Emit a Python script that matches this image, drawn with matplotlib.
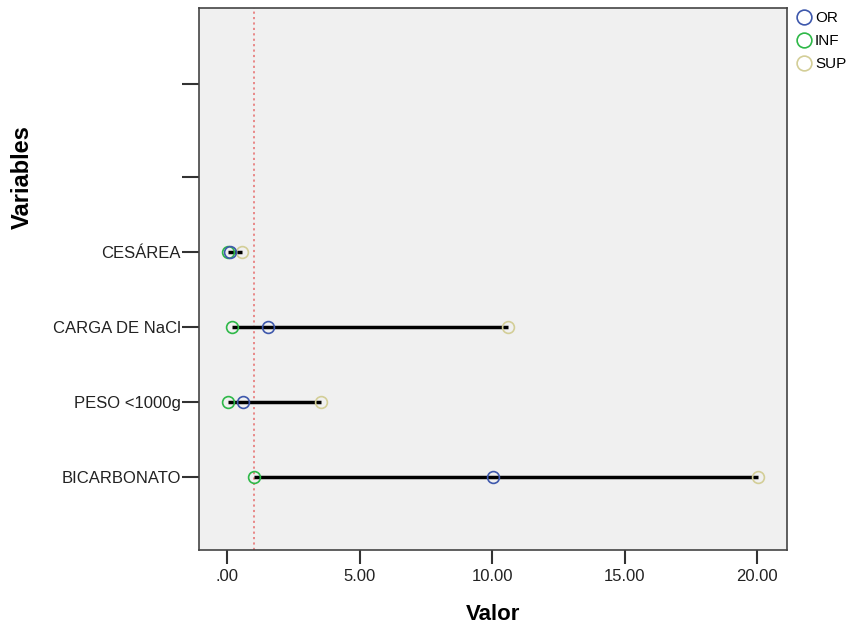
import matplotlib
matplotlib.use("Agg")
import matplotlib.pyplot as plt
from matplotlib.ticker import FuncFormatter

plt.rcParams['font.family'] = ['Liberation Sans', 'DejaVu Sans']

categories = ["BICARBONATO", "PESO <1000g", "CARGA DE NaCl", "CESÁREA", "", ""]
y_pos = [1, 2, 3, 4, 5, 6.24]
or_vals = [10.05, 0.6, 1.55, 0.12]
inf_vals = [1.0, 0.05, 0.2, 0.05]
sup_vals = [20.05, 3.55, 10.6, 0.55]
ref_value = 1.0
xticks = [0, 5, 10, 15, 20]

c_or = "#3E58AC"
c_inf = "#2EB848"
c_sup = "#D3CE97"

fig = plt.figure(figsize=(8.49, 6.31), dpi=100)
ax = fig.add_axes([199/849, 1-550/631, (787-199)/849, (550-8)/631])
ax.set_facecolor("#F0F0F0")

n = len(or_vals)
ys = y_pos[:n]
for y, lo, hi in zip(ys, inf_vals, sup_vals):
    ax.plot([lo, hi], [y, y], color="black", lw=2.5, zorder=2, solid_capstyle="butt")

ms = 8.5
ax.plot(sup_vals, ys, 'o', mfc='none', mec=c_sup, ms=ms, mew=1.2, zorder=3, label="SUP")
ax.plot(inf_vals, ys, 'o', mfc='none', mec=c_inf, ms=ms, mew=1.2, zorder=4, label="INF")
ax.plot(or_vals, ys, 'o', mfc='none', mec=c_or, ms=ms, mew=1.2, zorder=5, label="OR")

ax.axvline(ref_value, color="#E88080", lw=1.3, ls=(0, (1.2, 1.8)), zorder=1)

ax.set_xlim(-1.06, 21.13)
ax.set_ylim(0.027, 7.25)
ax.set_xticks(xticks)
ax.xaxis.set_major_formatter(FuncFormatter(lambda v, p: ("%.2f" % v).lstrip("0") if abs(v) < 1 else "%.2f" % v))
ax.set_yticks(y_pos)
ax.set_yticklabels(categories)
ax.tick_params(axis='y', length=12, width=1.5, color="#333333", labelsize=12, pad=1, labelcolor="#222222")
ax.tick_params(axis='x', length=10, width=1.5, color="#333333", labelsize=12, pad=4, labelcolor="#222222")
for s in ax.spines.values():
    s.set_color("#444444")
    s.set_linewidth(1.2)

ax.set_xlabel("Valor", fontsize=16, fontweight="bold", labelpad=14)
ax.set_ylabel("Variables", fontsize=17, fontweight="bold")
ax.yaxis.set_label_coords((34 - 199) / 588, (550 - 177) / 542)

handles, labels = ax.get_legend_handles_labels()
order = [2, 1, 0]
leg = fig.legend([handles[i] for i in order], [labels[i] for i in order],
                 loc="upper left", bbox_to_anchor=(786/849, 1-5/631), frameon=False,
                 fontsize=11, handletextpad=0.0, labelspacing=0.6, borderaxespad=0,
                 handlelength=1.5, markerscale=1.25)

fig.savefig("out.png", dpi=100)
